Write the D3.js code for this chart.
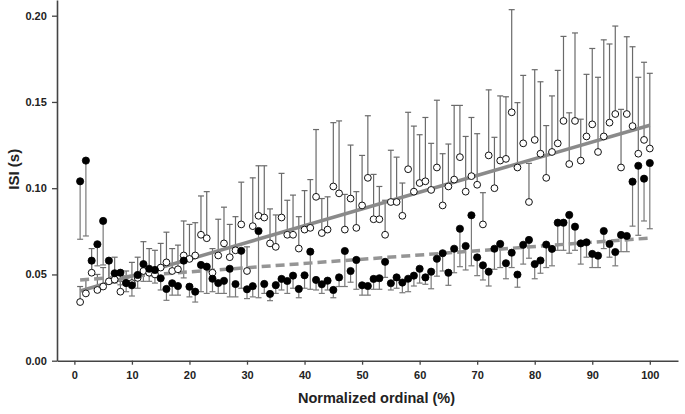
<!DOCTYPE html>
<html><head><meta charset="utf-8">
<script src="https://cdn.jsdelivr.net/npm/d3@7/dist/d3.min.js"></script>
<style>body{margin:0;background:#fff}svg{display:block}</style>
</head><body>
<svg id="c" width="685" height="414"></svg>
<script>
const ordinals = d3.range(1, 101);
const openMean = [0.034,0.039,0.051,0.041,0.043,0.046,0.047,0.040,0.045,0.045,
0.048,0.052,0.051,0.050,0.054,0.057,0.052,0.053,0.061,0.059,
0.061,0.073,0.071,0.051,0.061,0.068,0.060,0.064,0.079,0.052,
0.078,0.084,0.083,0.068,0.066,0.083,0.073,0.073,0.065,0.076,
0.077,0.095,0.074,0.076,0.101,0.097,0.076,0.094,0.077,0.090,
0.106,0.082,0.082,0.073,0.092,0.092,0.084,0.111,0.098,0.103,
0.104,0.099,0.112,0.090,0.101,0.105,0.118,0.098,0.107,0.102,
0.079,0.119,0.100,0.116,0.117,0.144,0.112,0.126,0.092,0.128,
0.120,0.106,0.121,0.126,0.139,0.114,0.139,0.116,0.130,0.137,
0.121,0.130,0.138,0.143,0.112,0.143,0.136,0.120,0.128,0.123];
const openUpper = [0.043,0.047,0.065,0.050,0.054,0.057,0.060,0.046,0.052,0.057,
0.060,0.069,0.065,0.064,0.068,0.0745,0.065,0.067,0.081,0.079,
0.080,0.0955,0.098,0.065,0.082,0.089,0.079,0.0835,0.1035,0.066,
0.106,0.113,0.113,0.088,0.0845,0.1086,0.093,0.096,0.0835,0.0986,
0.105,0.134,0.094,0.095,0.138,0.139,0.0964,0.125,0.098,0.119,
0.142,0.108,0.101,0.093,0.122,0.118,0.103,0.144,0.136,0.131,
0.141,0.126,0.151,0.120,0.1256,0.148,0.148,0.130,0.141,0.1316,
0.0974,0.157,0.1295,0.1535,0.153,0.2035,0.1496,0.1654,0.1144,0.1687,
0.1617,0.1363,0.1535,0.1683,0.188,0.1437,0.190,0.140,0.166,0.181,
0.1643,0.186,0.1836,0.194,0.1457,0.1878,0.182,0.1643,0.173,0.1666];
const filledMean = [0.104,0.116,0.058,0.0675,0.081,0.058,0.0507,0.051,0.045,0.0437,
0.0497,0.056,0.0533,0.0526,0.0478,0.0416,0.0449,0.0433,0.058,0.0429,
0.040,0.0555,0.0545,0.0475,0.045,0.0463,0.0533,0.0444,0.0637,0.0414,
0.0432,0.0752,0.0445,0.0387,0.0438,0.0474,0.0462,0.0493,0.0416,0.0495,
0.0632,0.0468,0.0443,0.0464,0.041,0.0483,0.0636,0.052,0.0584,0.0437,
0.0433,0.0474,0.0478,0.0573,0.0449,0.0483,0.0453,0.0475,0.0493,0.0533,
0.0483,0.0516,0.0591,0.0623,0.051,0.0649,0.0765,0.0665,0.0843,0.0599,
0.0553,0.0516,0.0649,0.0677,0.0565,0.0626,0.0499,0.0672,0.070,0.056,
0.0581,0.0673,0.0648,0.080,0.080,0.0845,0.0777,0.068,0.0686,0.0619,
0.0609,0.0752,0.0677,0.063,0.0729,0.0723,0.1038,0.113,0.1055,0.1146];
const filledLower = [0.0704,0.0723,0.050,0.055,0.0555,0.047,0.045,0.044,0.040,0.0375,
0.042,0.046,0.046,0.045,0.041,0.035,0.038,0.038,0.048,0.037,
0.034,0.040,0.039,0.040,0.039,0.039,0.037,0.037,0.042,0.036,
0.037,0.0365,0.039,0.0348,0.039,0.041,0.039,0.042,0.0365,0.042,
0.0414,0.041,0.039,0.041,0.0365,0.043,0.043,0.0455,0.0414,0.038,
0.038,0.0414,0.0414,0.0483,0.041,0.042,0.0394,0.040,0.0433,0.045,
0.0443,0.0417,0.049,0.052,0.0437,0.051,0.0545,0.0526,0.055,0.0493,
0.0468,0.0433,0.053,0.054,0.0475,0.054,0.0426,0.056,0.0594,0.0475,
0.0507,0.054,0.055,0.064,0.064,0.0623,0.064,0.056,0.060,0.054,
0.054,0.065,0.060,0.055,0.0632,0.0632,0.078,0.0727,0.081,0.0765];
const openTrend = [[1,0.0404],[100,0.1365]];
const filledTrend = [[1,0.0468],[100,0.0711]];
const xTicks = d3.range(0, 101, 10);
const yTicks = [0, 0.05, 0.10, 0.15, 0.20];

const svg = d3.select("#c");
const x = d3.scaleLinear().domain([-3.02, 104.9]).range([57, 678]);
const y = d3.scaleLinear().domain([0, 0.2091]).range([360.7, 0]);
const FONT = "'Liberation Sans', Arial, sans-serif";

// axes
const yAxis = svg.append("g").attr("transform", `translate(${x(-3.02)},0)`)
  .call(d3.axisLeft(y).tickValues(yTicks).tickFormat(d3.format(".2f")).tickSize(5).tickSizeOuter(0));
const xAxis = svg.append("g").attr("transform", `translate(0,${y(0)})`)
  .call(d3.axisBottom(x).tickValues(xTicks).tickFormat(d3.format("d")).tickSize(4).tickSizeOuter(0));
[yAxis, xAxis].forEach(g => {
  g.select(".domain").attr("stroke", "#444").attr("stroke-width", 1.6);
  g.selectAll(".tick line").attr("stroke", "#444").attr("stroke-width", 1.3);
  g.selectAll(".tick text").attr("fill", "#222").attr("font-family", FONT)
    .attr("font-weight", "bold").attr("font-size", 11);
});
xAxis.selectAll(".tick text").attr("dy", "1.05em");
yAxis.selectAll(".tick text").attr("dx", "-0.2em");

svg.append("text").attr("transform", `translate(19,${y(0.111)}) rotate(-90)`)
  .attr("text-anchor", "middle").attr("font-family", FONT).attr("font-weight", "bold")
  .attr("font-size", 15).attr("fill", "#222").text("ISI (s)");
svg.append("text").attr("x", x(52.5)).attr("y", 403)
  .attr("text-anchor", "middle").attr("font-family", FONT).attr("font-weight", "bold")
  .attr("font-size", 14.5).attr("fill", "#222").text("Normalized ordinal (%)");

const capW = 3;
// error bars: open (upward)
const gOpenErr = svg.append("g").attr("stroke", "#6a6a6a").attr("stroke-width", 1.2);
ordinals.forEach((o, i) => {
  gOpenErr.append("line").attr("x1", x(o)).attr("x2", x(o)).attr("y1", y(openMean[i])).attr("y2", y(openUpper[i]));
  gOpenErr.append("line").attr("x1", x(o) - capW).attr("x2", x(o) + capW).attr("y1", y(openUpper[i])).attr("y2", y(openUpper[i]));
});
// error bars: filled (downward)
const gFillErr = svg.append("g").attr("stroke", "#7a7a7a").attr("stroke-width", 1.2);
ordinals.forEach((o, i) => {
  gFillErr.append("line").attr("x1", x(o)).attr("x2", x(o)).attr("y1", y(filledMean[i])).attr("y2", y(filledLower[i]));
  gFillErr.append("line").attr("x1", x(o) - capW).attr("x2", x(o) + capW).attr("y1", y(filledLower[i])).attr("y2", y(filledLower[i]));
});

// trend lines
const line = d3.line().x(d => x(d[0])).y(d => y(d[1]));
svg.append("path").attr("d", line(filledTrend)).attr("fill", "none")
  .attr("stroke", "#959595").attr("stroke-width", 3.5).attr("stroke-dasharray", "9,5");
svg.append("path").attr("d", line(openTrend)).attr("fill", "none")
  .attr("stroke", "#8a8a8a").attr("stroke-width", 3.5);

// points
svg.append("g").selectAll("circle").data(ordinals).join("circle")
  .attr("cx", d => x(d)).attr("cy", (d, i) => y(openMean[i])).attr("r", 3.4)
  .attr("fill", "#fff").attr("stroke", "#111").attr("stroke-width", 1);
svg.append("g").selectAll("circle").data(ordinals).join("circle")
  .attr("cx", d => x(d)).attr("cy", (d, i) => y(filledMean[i])).attr("r", 3.6)
  .attr("fill", "#000").attr("stroke", "#000").attr("stroke-width", 0.8);
</script>
</body></html>
